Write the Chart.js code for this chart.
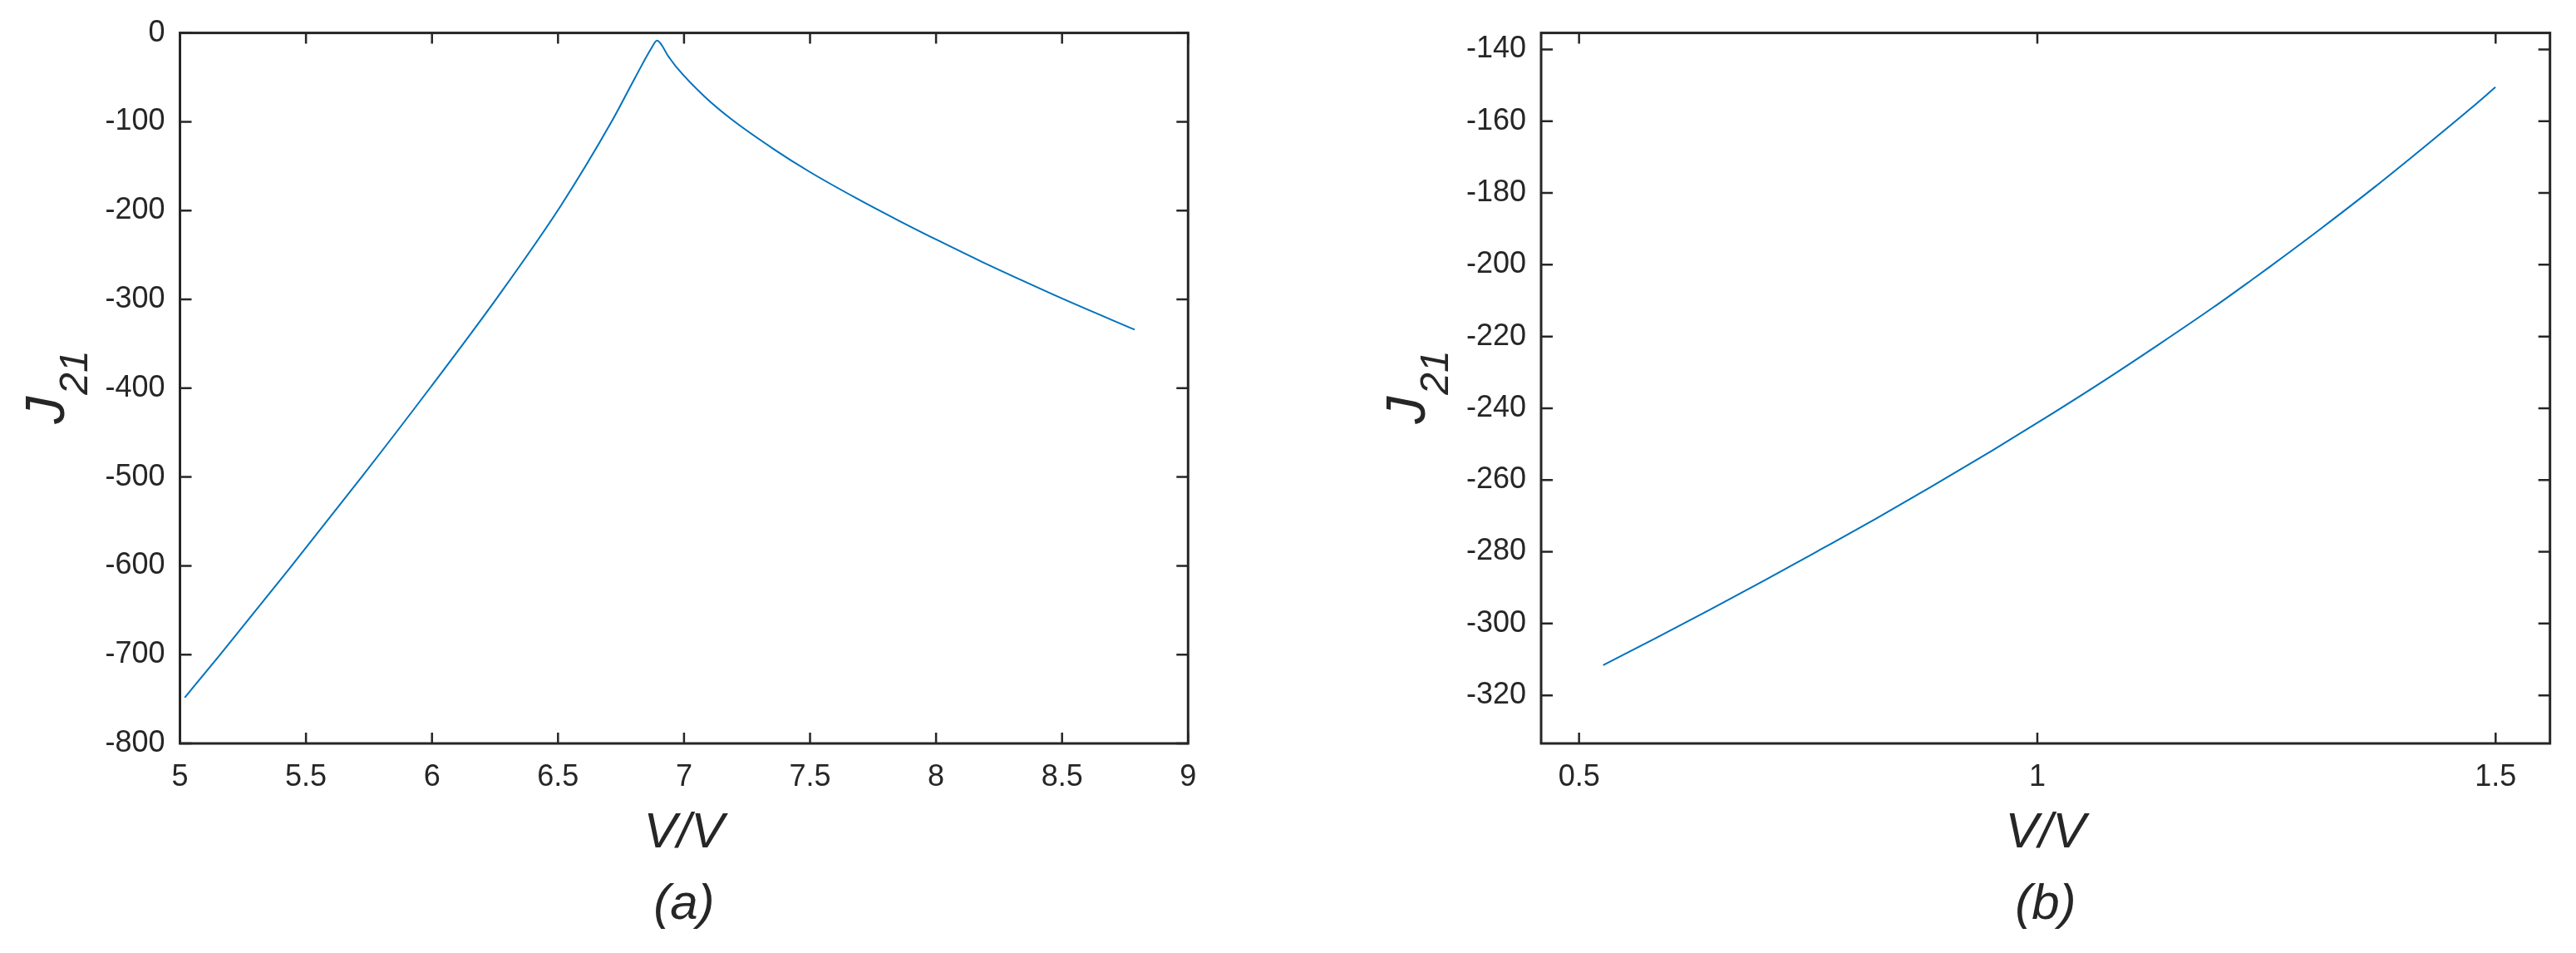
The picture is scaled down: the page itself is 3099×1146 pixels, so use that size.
<!DOCTYPE html>
<html>
<head>
<meta charset="utf-8">
<script src="https://cdn.jsdelivr.net/npm/chart.js@4.4.0/dist/chart.umd.min.js"></script>
<style>
 body{margin:0;background:#fff;}
 #contenedor{position:relative;width:3099px;height:1146px;background:#fff;}
 canvas{position:absolute;top:0;}
</style>
</head>
<body>
<div id="contenedor">
 <canvas id="graficoA" width="1549" height="1146" style="left:0px"></canvas>
 <canvas id="graficoB" width="1550" height="1146" style="left:1549px"></canvas>
</div>
<script>
// datos (a)
var voltajeA = [5.019, 5.159, 5.434, 5.726, 5.996, 6.263, 6.511, 6.713, 6.805, 6.871, 6.893,
                6.938, 6.971, 7.081, 7.191, 7.356, 7.499, 7.687, 7.852, 8.017, 8.182, 8.348, 8.513, 8.788];
var j21A = [-748.4, -700.1, -603.3, -498.2, -398.3, -296.3, -194.6, -99.7, -50.9, -17, -8.5,
            -26.4, -38.9, -71.5, -97.8, -130.8, -156.5, -186.6, -211.3, -234.9, -257.7, -279.5, -300.6, -334.1];

// datos (b)
var voltajeB = [0.5263, 0.5819, 0.6424, 0.7028, 0.7632, 0.8237, 0.8841, 0.9507, 1.0111, 1.0716,
                1.1320, 1.1924, 1.2378, 1.2529, 1.3075, 1.3678, 1.4282, 1.4735, 1.4998];
var j21B = [-311.6, -304.3, -296.2, -287.9, -279.4, -270.8, -261.9, -251.8, -242.3, -232.5,
            -222.3, -211.8, -203.5, -200.7, -190.3, -178.4, -165.9, -156.3, -150.5];

var ticksXA = [5, 5.5, 6, 6.5, 7, 7.5, 8, 8.5, 9];
var ticksYA = [0, -100, -200, -300, -400, -500, -600, -700, -800];
var ticksXB = [0.5, 1, 1.5];
var ticksYB = [-140, -160, -180, -200, -220, -240, -260, -280, -300, -320];

var etiquetaX = 'V/V';
var etiquetaY = ['J', '21'];
var subfiguras = ['(a)', '(b)'];

var fuente = '"Liberation Sans", Arial, Helvetica, sans-serif';
var gris = '#262626';
Chart.defaults.color = gris;
Chart.defaults.font.family = fuente;

// caja estilo matlab con marcas hacia dentro y la etiqueta J_21
var cajaMatlab = {
	id: 'cajaMatlab',
	afterDraw: function (chart, args, opts) {
		var ctx = chart.ctx;
		var a = chart.chartArea;
		var sx = chart.scales.x;
		var sy = chart.scales.y;
		ctx.save();
		ctx.strokeStyle = gris;
		ctx.lineWidth = 2.5;
		ctx.beginPath();
		sx.ticks.forEach(function (t) {
			var p = sx.getPixelForValue(t.value);
			ctx.moveTo(p, a.bottom); ctx.lineTo(p, a.bottom - 13);
			ctx.moveTo(p, a.top); ctx.lineTo(p, a.top + 13);
		});
		sy.ticks.forEach(function (t) {
			var p = sy.getPixelForValue(t.value);
			ctx.moveTo(a.left, p); ctx.lineTo(a.left + 14, p);
			ctx.moveTo(a.right, p); ctx.lineTo(a.right - 14, p);
		});
		ctx.stroke();
		ctx.lineWidth = 3;
		ctx.strokeRect(a.left, a.top, a.right - a.left, a.bottom - a.top);

		// etiqueta del eje y con subindice
		ctx.fillStyle = gris;
		ctx.translate(a.left - opts.separacion, (a.top + a.bottom) / 2);
		ctx.rotate(-Math.PI / 2);
		ctx.textBaseline = 'alphabetic';
		ctx.font = 'italic 66px ' + fuente;
		ctx.fillText(etiquetaY[0], -43, 0);
		var ancho = ctx.measureText(etiquetaY[0]).width;
		ctx.font = 'italic 48px ' + fuente;
		ctx.fillText(etiquetaY[1], -43 + ancho + 2, 28);
		ctx.restore();
	}
};

function crearGrafico(id, xs, ys, tx, ty, lim, caja, letra) {
	var puntos = xs.map(function (x, i) { return {x: x, y: ys[i]}; });
	return new Chart(document.getElementById(id).getContext('2d'), {
		type: 'line',
		data: {
			datasets: [{
				data: puntos,
				borderColor: '#0072BD',
				borderWidth: 2,
				pointRadius: 0,
				cubicInterpolationMode: 'monotone',
				fill: false
			}]
		},
		plugins: [cajaMatlab],
		options: {
			responsive: false,
			animation: false,
			devicePixelRatio: 1,
			layout: {padding: {left: 0, right: caja.derecha, top: caja.arriba, bottom: 21.5}},
			plugins: {
				legend: {display: false},
				tooltip: {enabled: false},
				title: {
					display: true,
					text: letra,
					position: 'bottom',
					fullSize: false,
					color: gris,
					font: {size: 60, style: 'italic', weight: 'normal', lineHeight: 1.2},
					padding: {top: 14.5, bottom: 0}
				},
				cajaMatlab: {separacion: 140}
			},
			scales: {
				x: {
					type: 'linear',
					min: lim.xmin, max: lim.xmax,
					grid: {display: false, drawTicks: false},
					border: {display: false},
					afterBuildTicks: function (s) { s.ticks = tx.map(function (v) { return {value: v}; }); },
					afterFit: function (s) { s.height = 144; },
					ticks: {
						autoSkip: false, maxRotation: 0, padding: 19,
						font: {size: 36},
						callback: function (v) { return String(v); }
					},
					title: {
						display: true,
						text: etiquetaX,
						font: {size: 60, style: 'italic', lineHeight: 1.2},
						padding: 0
					}
				},
				y: {
					type: 'linear',
					min: lim.ymin, max: lim.ymax,
					grid: {display: false, drawTicks: false},
					border: {display: false},
					afterBuildTicks: function (s) { s.ticks = ty.map(function (v) { return {value: v}; }); },
					afterFit: function (s) { s.width = caja.izquierda; },
					ticks: {
						autoSkip: false, padding: 18,
						font: {size: 36},
						callback: function (v) { return String(v); }
					}
				}
			}
		}
	});
}

var graficoA = crearGrafico('graficoA', voltajeA, j21A, ticksXA, ticksYA,
	{xmin: 5, xmax: 9, ymin: -800, ymax: 0},
	{izquierda: 216.5, derecha: 119.7, arriba: 34},
	subfiguras[0]);

var graficoB = crearGrafico('graficoB', voltajeB, j21B, ticksXB, ticksYB,
	{xmin: 0.4586, xmax: 1.5593, ymin: -333.4, ymax: -135.4},
	{izquierda: 305, derecha: 31.3, arriba: 34},
	subfiguras[1]);
</script>
</body>
</html>
